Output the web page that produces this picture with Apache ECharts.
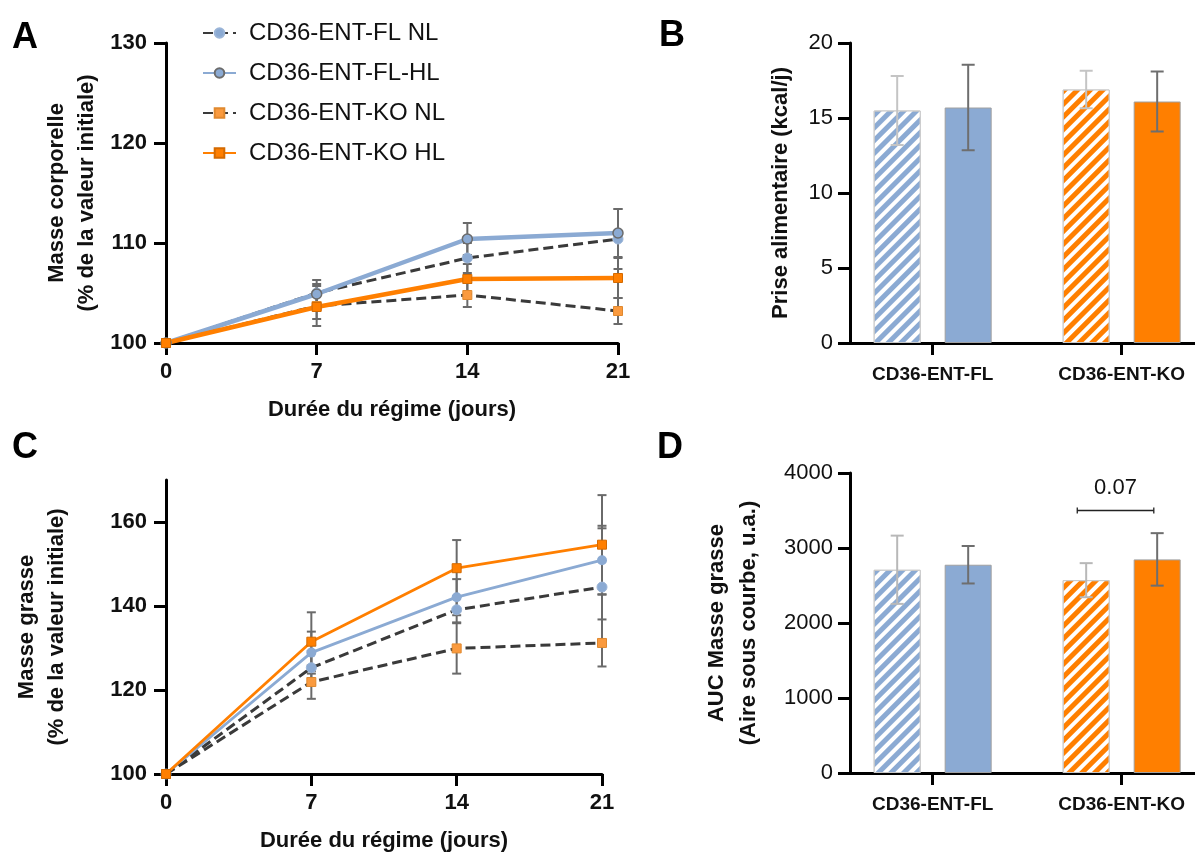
<!DOCTYPE html>
<html>
<head>
<meta charset="utf-8">
<script src="https://cdn.jsdelivr.net/npm/echarts@6/dist/echarts.min.js"></script>
<style>
html,body{margin:0;padding:0;background:#fff;}
#chart{width:1195px;height:855px;}
</style>
</head>
<body>
<div id="chart"></div>
<script>
// ---------- DATA ----------
const seriesNames = ['CD36-ENT-FL NL', 'CD36-ENT-FL-HL', 'CD36-ENT-KO NL', 'CD36-ENT-KO HL'];
const days = [0, 7, 14, 21];

// Panel A : body mass (% initial)
const bwFLNL = [100, 105.0, 108.5, 110.4];
const bwFLNLerr = [0, 1.3, 1.5, 3.0];
const bwFLHL = [100, 104.9, 110.4, 111.0];
const bwFLHLerr = [0, 1.0, 1.6, 2.4];
const bwKONL = [100, 103.7, 104.8, 103.2];
const bwKONLerr = [0, 2.0, 1.2, 1.3];
const bwKOHL = [100, 103.6, 106.4, 106.5];
const bwKOHLerr = [0, 1.2, 1.5, 2.0];

// Panel C : fat mass (% initial)
const fmFLNL = [100, 125.3, 139.1, 144.5];
const fmFLNLerr = [0, 4.0, 3.0, 14.0];
const fmFLHL = [100, 128.9, 142.1, 150.9];
const fmFLHLerr = [0, 5.0, 4.3, 8.2];
const fmKONL = [100, 121.9, 129.9, 131.2];
const fmKONLerr = [0, 4.0, 6.0, 5.6];
const fmKOHL = [100, 131.5, 149.0, 154.6];
const fmKOHLerr = [0, 7.0, 6.7, 11.8];

// Panels B & D : groups
const groups = ['CD36-ENT-FL', 'CD36-ENT-KO'];
const groupPos = [1, 2];
// Panel B : food intake (kcal/j)
const foodNL = [15.5, 16.9];
const foodNLerr = [2.3, 1.25];
const foodHL = [15.7, 16.1];
const foodHLerr = [2.85, 2.0];
// Panel D : AUC fat mass
const aucNL = [2710, 2571];
const aucNLerr = [455, 227];
const aucHL = [2777, 2848];
const aucHLerr = [250, 350];
const aucBracket = [[1.765, 2.17, 3500, '0.07']];

// Tick labels
const ticksA = [100, 110, 120, 130];
const ticksB = [0, 5, 10, 15, 20];
const ticksC = [100, 120, 140, 160];
const ticksD = [0, 1000, 2000, 3000, 4000];

// ---------- STYLE ----------
const BLUE = '#8BAAD3';
const ORANGE = '#FF7F00';
const ORANGE_L = '#FA9A3E';
const DARK = '#3A3A3A';
const FONT = 'Liberation Sans';

const chart = echarts.init(document.getElementById('chart'));

const axisLine = {show: true, lineStyle: {color: '#000', width: 3}};
const axisTick = {show: true, length: 12, lineStyle: {color: '#000', width: 3}};

function zip(xs, ys) { return xs.map((x, i) => [x, ys[i]]); }

function errSeries(xi, yi, xs, means, errs, pxOff, color, cap, width, z) {
  return {
    type: 'custom', xAxisIndex: xi, yAxisIndex: yi, z: z, silent: true,
    data: xs.map((x, i) => [x, means[i] - errs[i], means[i] + errs[i]]),
    encode: {x: 0, y: [1, 2]},
    renderItem: function (params, api) {
      const lo = api.coord([api.value(0), api.value(1)]);
      const hi = api.coord([api.value(0), api.value(2)]);
      if (Math.abs(lo[1] - hi[1]) < 0.5) return {type: 'group', children: []};
      const x = lo[0] + pxOff;
      const st = {stroke: color, lineWidth: width};
      return {type: 'group', children: [
        {type: 'line', shape: {x1: x, y1: lo[1], x2: x, y2: hi[1]}, style: st},
        {type: 'line', shape: {x1: x - cap / 2, y1: lo[1], x2: x + cap / 2, y2: lo[1]}, style: st},
        {type: 'line', shape: {x1: x - cap / 2, y1: hi[1], x2: x + cap / 2, y2: hi[1]}, style: st}
      ]};
    }
  };
}

function lineSeries(name, xi, yi, ys, kind, wide) {
  const s = {name: name, type: 'line', xAxisIndex: xi, yAxisIndex: yi, data: zip(days, ys), z: 5, symbolSize: 10};
  if (kind === 'FLNL') {
    s.symbol = 'circle';
    s.lineStyle = {color: DARK, width: 3, type: [10, 5]};
    s.itemStyle = {color: BLUE, borderColor: '#9bb5d8', borderWidth: 1};
  } else if (kind === 'FLHL') {
    s.symbol = 'circle';
    s.lineStyle = {color: BLUE, width: wide ? 4.5 : 2.8};
    s.itemStyle = {color: BLUE, borderColor: '#6b6b6b', borderWidth: wide ? 1.5 : 0};
  } else if (kind === 'KONL') {
    s.symbol = 'rect';
    s.symbolSize = 9;
    s.lineStyle = {color: DARK, width: 3, type: [10, 5]};
    s.itemStyle = {color: ORANGE_L, borderColor: '#e0892f', borderWidth: 1};
  } else {
    s.symbol = 'rect';
    s.symbolSize = 9;
    s.lineStyle = {color: ORANGE, width: wide ? 4.5 : 2.8};
    s.itemStyle = {color: ORANGE, borderColor: '#d46a00', borderWidth: 1};
  }
  return s;
}

const decal = {symbol: 'rect', symbolSize: 1, color: '#ffffff', dashArrayX: [1, 0], dashArrayY: [3.5, 5], rotation: -Math.PI / 4};

function barSeries(xi, yi, vals, hatched) {
  return {
    type: 'bar', xAxisIndex: xi, yAxisIndex: yi, barWidth: 47, barGap: '51%', z: 2,
    data: vals.map((v, i) => ({
      value: [groupPos[i], v],
      itemStyle: {
        color: i === 0 ? BLUE : ORANGE,
        borderColor: hatched ? '#c8c8c8' : '#a0a0a0', borderWidth: 1,
        decal: hatched ? decal : null
      }
    }))
  };
}

const catLabels = {
  show: true, customValues: groupPos, margin: 22, fontSize: 19, fontWeight: 'bold', color: '#111', fontFamily: FONT,
  formatter: v => groups[groupPos.indexOf(Math.round(v))] || ''
};
const plain = v => String(v);

const option = {
  animation: false,
  backgroundColor: '#fff',
  textStyle: {fontFamily: FONT},
  title: [
    {text: 'A', left: 12, top: 20, padding: 0, textStyle: {fontSize: 36, fontWeight: 'bold', color: '#000', fontFamily: FONT}},
    {text: 'B', left: 659, top: 18, padding: 0, textStyle: {fontSize: 36, fontWeight: 'bold', color: '#000', fontFamily: FONT}},
    {text: 'C', left: 12, top: 430, padding: 0, textStyle: {fontSize: 36, fontWeight: 'bold', color: '#000', fontFamily: FONT}},
    {text: 'D', left: 657, top: 430, padding: 0, textStyle: {fontSize: 36, fontWeight: 'bold', color: '#000', fontFamily: FONT}}
  ],
  legend: {
    orient: 'vertical', left: 197, top: 16, itemWidth: 33, itemHeight: 12, itemGap: 16,
    selectedMode: false, data: seriesNames,
    textStyle: {fontSize: 24, color: '#111', fontFamily: FONT, padding: [0, 0, 0, 8]}
  },
  grid: [
    {left: 166, top: 43, width: 452, height: 300},
    {left: 850, top: 43, right: 0, height: 300},
    {left: 166, top: 480, width: 436, height: 294},
    {left: 850, top: 473, right: 0, height: 300}
  ],
  xAxis: [
    {gridIndex: 0, type: 'value', min: 0, max: 21, interval: 7, axisLine: axisLine, axisTick: axisTick, splitLine: {show: false},
     axisLabel: {margin: 18, fontSize: 22, fontWeight: 'bold', color: '#111', formatter: plain},
     name: 'Durée du régime (jours)', nameLocation: 'middle', nameGap: 56,
     nameTextStyle: {fontSize: 22, fontWeight: 'bold', color: '#111', fontFamily: FONT}},
    {gridIndex: 1, type: 'value', min: 0.5625, max: 2.388, axisLine: axisLine, splitLine: {show: false},
     axisTick: Object.assign({}, axisTick, {customValues: groupPos}), axisLabel: catLabels},
    {gridIndex: 2, type: 'value', min: 0, max: 21, interval: 7, axisLine: axisLine, axisTick: axisTick, splitLine: {show: false},
     axisLabel: {margin: 18, fontSize: 22, fontWeight: 'bold', color: '#111', formatter: plain},
     name: 'Durée du régime (jours)', nameLocation: 'middle', nameGap: 56,
     nameTextStyle: {fontSize: 22, fontWeight: 'bold', color: '#111', fontFamily: FONT}},
    {gridIndex: 3, type: 'value', min: 0.5625, max: 2.388, axisLine: axisLine, splitLine: {show: false},
     axisTick: Object.assign({}, axisTick, {customValues: groupPos}), axisLabel: catLabels}
  ],
  yAxis: [
    {gridIndex: 0, type: 'value', min: 100, max: 130, interval: 10, axisLine: axisLine, splitLine: {show: false},
     axisTick: Object.assign({}, axisTick, {customValues: ticksA}),
     axisLabel: {customValues: ticksA, margin: 19, fontSize: 22, fontWeight: 'bold', color: '#111', formatter: plain},
     name: 'Masse corporelle\n(% de la valeur initiale)', nameLocation: 'middle', nameGap: 64,
     nameTextStyle: {fontSize: 22, fontWeight: 'bold', color: '#111', lineHeight: 30, fontFamily: FONT}},
    {gridIndex: 1, type: 'value', min: 0, max: 20, interval: 5, axisLine: axisLine, splitLine: {show: false},
     axisTick: Object.assign({}, axisTick, {customValues: ticksB}),
     axisLabel: {customValues: ticksB, margin: 17, fontSize: 22, color: '#111', formatter: plain},
     name: 'Prise alimentaire (kcal/j)', nameLocation: 'middle', nameGap: 58,
     nameTextStyle: {fontSize: 22, fontWeight: 'bold', color: '#111', fontFamily: FONT}},
    {gridIndex: 2, type: 'value', min: 100, max: 170, interval: 10, axisLine: axisLine, splitLine: {show: false},
     axisTick: Object.assign({}, axisTick, {customValues: ticksC}),
     axisLabel: {customValues: ticksC, margin: 19, fontSize: 22, fontWeight: 'bold', color: '#111', formatter: plain},
     name: 'Masse grasse\n(% de la valeur initiale)', nameLocation: 'middle', nameGap: 94,
     nameTextStyle: {fontSize: 22, fontWeight: 'bold', color: '#111', lineHeight: 30, fontFamily: FONT}},
    {gridIndex: 3, type: 'value', min: 0, max: 4000, interval: 1000, axisLine: axisLine, splitLine: {show: false},
     axisTick: Object.assign({}, axisTick, {customValues: ticksD}),
     axisLabel: {customValues: ticksD, margin: 17, fontSize: 22, color: '#111', formatter: plain},
     name: 'AUC Masse grasse\n(Aire sous courbe, u.a.)', nameLocation: 'middle', nameGap: 85,
     nameTextStyle: {fontSize: 22, fontWeight: 'bold', color: '#111', lineHeight: 32, fontFamily: FONT}}
  ],
  series: [
    // Panel A
    lineSeries(seriesNames[0], 0, 0, bwFLNL, 'FLNL', true),
    lineSeries(seriesNames[1], 0, 0, bwFLHL, 'FLHL', true),
    lineSeries(seriesNames[2], 0, 0, bwKONL, 'KONL', true),
    lineSeries(seriesNames[3], 0, 0, bwKOHL, 'KOHL', true),
    errSeries(0, 0, days, bwFLNL, bwFLNLerr, 0, '#6a6a6a', 9, 2, 3),
    errSeries(0, 0, days, bwFLHL, bwFLHLerr, 0, '#6a6a6a', 9, 2, 3),
    errSeries(0, 0, days, bwKONL, bwKONLerr, 0, '#6a6a6a', 9, 2, 3),
    errSeries(0, 0, days, bwKOHL, bwKOHLerr, 0, '#6a6a6a', 9, 2, 3),
    // Panel C
    lineSeries(seriesNames[0], 2, 2, fmFLNL, 'FLNL', false),
    lineSeries(seriesNames[1], 2, 2, fmFLHL, 'FLHL', false),
    lineSeries(seriesNames[2], 2, 2, fmKONL, 'KONL', false),
    lineSeries(seriesNames[3], 2, 2, fmKOHL, 'KOHL', false),
    errSeries(2, 2, days, fmFLNL, fmFLNLerr, 0, '#6a6a6a', 9, 2, 3),
    errSeries(2, 2, days, fmFLHL, fmFLHLerr, 0, '#6a6a6a', 9, 2, 3),
    errSeries(2, 2, days, fmKONL, fmKONLerr, 0, '#6a6a6a', 9, 2, 3),
    errSeries(2, 2, days, fmKOHL, fmKOHLerr, 0, '#6a6a6a', 9, 2, 3),
    // Panel B
    barSeries(1, 1, foodNL, true),
    barSeries(1, 1, foodHL, false),
    errSeries(1, 1, groupPos, foodNL, foodNLerr, -35.5, '#c4c4c4', 13, 2, 6),
    errSeries(1, 1, groupPos, foodHL, foodHLerr, 35.5, '#6e6e6e', 13, 2, 6),
    // Panel D
    barSeries(3, 3, aucNL, true),
    barSeries(3, 3, aucHL, false),
    errSeries(3, 3, groupPos, aucNL, aucNLerr, -35.5, '#b8b8b8', 13, 2, 6),
    errSeries(3, 3, groupPos, aucHL, aucHLerr, 35.5, '#6e6e6e', 13, 2, 6),
    {
      type: 'custom', xAxisIndex: 3, yAxisIndex: 3, z: 6, silent: true,
      data: aucBracket, encode: {x: [0, 1], y: 2},
      renderItem: function (params, api) {
        const a = api.coord([api.value(0), api.value(2)]);
        const b = api.coord([api.value(1), api.value(2)]);
        const st = {stroke: '#222', lineWidth: 1.3};
        return {type: 'group', children: [
          {type: 'line', shape: {x1: a[0], y1: a[1], x2: b[0], y2: b[1]}, style: st},
          {type: 'line', shape: {x1: a[0], y1: a[1] - 3, x2: a[0], y2: a[1] + 3}, style: st},
          {type: 'line', shape: {x1: b[0], y1: b[1] - 3, x2: b[0], y2: b[1] + 3}, style: st},
          {type: 'text', x: (a[0] + b[0]) / 2, y: a[1] - 23,
           style: {text: aucBracket[params.dataIndex][3], fill: '#111', font: '22px "Liberation Sans"', align: 'center', verticalAlign: 'middle'}}
        ]};
      }
    }
  ]
};
chart.setOption(option);
</script>
</body>
</html>
